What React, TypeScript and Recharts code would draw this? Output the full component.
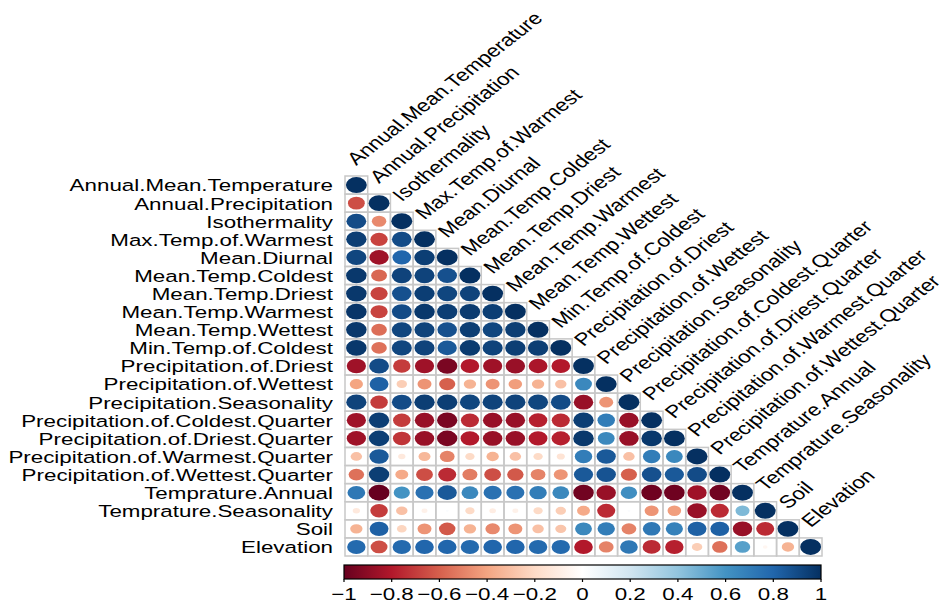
import React from 'react';
import { ScatterChart, Scatter, XAxis, YAxis, BarChart, Bar } from 'recharts';

const variables = [
  'Annual.Mean.Temperature',
  'Annual.Precipitation',
  'Isothermality',
  'Max.Temp.of.Warmest',
  'Mean.Diurnal',
  'Mean.Temp.Coldest',
  'Mean.Temp.Driest',
  'Mean.Temp.Warmest',
  'Mean.Temp.Wettest',
  'Min.Temp.of.Coldest',
  'Precipitation.of.Driest',
  'Precipitation.of.Wettest',
  'Precipitation.Seasonality',
  'Precipitation.of.Coldest.Quarter',
  'Precipitation.of.Driest.Quarter',
  'Precipitation.of.Warmest.Quarter',
  'Precipitation.of.Wettest.Quarter',
  'Temprature.Annual',
  'Temprature.Seasonality',
  'Soil',
  'Elevation',
];

// lower-triangular correlation matrix (row i, columns 0..i)
const corrRows: number[][] = [
  [1],
  [-0.65, 1],
  [0.9, -0.48, 1],
  [0.95, -0.68, 0.9, 1],
  [0.92, -0.85, 0.8, 0.95, 1],
  [0.97, -0.58, 0.93, 0.93, 0.88, 1],
  [0.97, -0.68, 0.88, 0.95, 0.92, 0.93, 1],
  [0.98, -0.68, 0.9, 0.97, 0.95, 0.96, 0.95, 1],
  [0.97, -0.56, 0.92, 0.93, 0.88, 0.95, 0.92, 0.95, 1],
  [0.97, -0.55, 0.92, 0.93, 0.85, 0.96, 0.93, 0.95, 0.95, 1],
  [-0.85, 0.9, -0.7, -0.85, -0.95, -0.8, -0.85, -0.87, -0.82, -0.8, 1],
  [-0.4, 0.82, -0.25, -0.45, -0.6, -0.35, -0.45, -0.42, -0.35, -0.3, 0.65, 1],
  [0.93, -0.7, 0.9, 0.95, 0.95, 0.92, 0.93, 0.93, 0.92, 0.9, -0.87, -0.45, 1],
  [-0.85, 0.95, -0.7, -0.87, -0.95, -0.75, -0.87, -0.87, -0.78, -0.75, 0.95, 0.7, -0.87, 1],
  [-0.85, 0.95, -0.72, -0.87, -0.95, -0.8, -0.87, -0.87, -0.8, -0.78, 0.97, 0.65, -0.87, 0.97, 1],
  [-0.3, 0.85, -0.12, -0.33, -0.5, -0.2, -0.35, -0.3, -0.2, -0.15, 0.7, 0.85, -0.3, 0.7, 0.65, 1],
  [-0.55, 0.95, -0.38, -0.65, -0.75, -0.52, -0.65, -0.62, -0.5, -0.45, 0.85, 0.87, -0.6, 0.88, 0.85, 0.9, 1],
  [0.72, -1.0, 0.6, 0.75, 0.85, 0.65, 0.75, 0.75, 0.7, 0.65, -0.97, -0.87, 0.62, -0.98, -0.98, -0.85, -0.97, 1],
  [-0.12, -0.7, -0.3, -0.08, 0.02, -0.2, -0.1, -0.08, -0.2, -0.25, -0.38, -0.75, 0.02, -0.45, -0.42, -0.87, -0.75, 0.45, 1],
  [-0.35, 0.82, -0.22, -0.45, -0.62, -0.35, -0.48, -0.45, -0.3, -0.28, 0.65, 0.7, -0.5, 0.72, 0.68, 0.82, 0.82, -0.87, -0.75, 1],
  [0.78, -0.65, 0.78, 0.8, 0.8, 0.78, 0.8, 0.8, 0.78, 0.78, -0.8, -0.5, 0.72, -0.75, -0.78, -0.25, -0.55, 0.55, -0.05, -0.35, 1],
];

const colorStops = ['#67001F', '#B2182B', '#D6604D', '#F4A582', '#FDDBC7', '#FFFFFF', '#D1E5F0', '#92C5DE', '#4393C3', '#2166AC', '#053061'];
const colorbarTicks = [-1, -0.8, -0.6, -0.4, -0.2, 0, 0.2, 0.4, 0.6, 0.8, 1];
const colorbarLabels = ['\u22121', '\u22120.8', '\u22120.6', '\u22120.4', '\u22120.2', '0', '0.2', '0.4', '0.6', '0.8', '1'];
const colorbarData = [{ name: 'cb', range: [-1, 1] }];

const FONT = '"Liberation Sans", Arial, Helvetica, sans-serif';
const SX = 1.3;
const FS = 17.2;
const SX_TOP = 1.28;
const FS_TOP = 17.6;
const W = 939;
const H = 605;
const M = { top: 176, right: 117, bottom: 49, left: 335 };
const Y_AXIS_W = 10;
const N = variables.length;
const CELL_W = (W - M.left - Y_AXIS_W - M.right) / N;
const CELL_H = (H - M.top - M.bottom) / N;

function hexToRgb(h: string) {
  return [parseInt(h.slice(1, 3), 16), parseInt(h.slice(3, 5), 16), parseInt(h.slice(5, 7), 16)];
}
function corrColor(r: number) {
  const t = ((r + 1) / 2) * (colorStops.length - 1);
  const i = Math.max(0, Math.min(colorStops.length - 2, Math.floor(t)));
  const f = t - i;
  const a = hexToRgb(colorStops[i]);
  const b = hexToRgb(colorStops[i + 1]);
  const c = a.map((v, k) => Math.round(v + (b[k] - v) * f));
  return `rgb(${c[0]},${c[1]},${c[2]})`;
}

const cells: { x: number; y: number; r: number }[] = [];
corrRows.forEach((row, i) => row.forEach((r, j) => cells.push({ x: j, y: i, r })));
const diag = variables.map((name, i) => ({ x: i, y: i, name }));
const rowTicks = variables.map((_, i) => i);

const CellShape = (props: any) => {
  const { cx, cy, payload } = props;
  const r = payload.r;
  const k = Math.sqrt(Math.abs(r));
  return (
    <g>
      <rect x={cx - CELL_W / 2} y={cy - CELL_H / 2} width={CELL_W} height={CELL_H} fill="none" stroke="#c8c8c8" strokeWidth={1.5} />
      <ellipse cx={cx} cy={cy} rx={0.46 * k * CELL_W} ry={0.44 * k * CELL_H} fill={corrColor(r)} />
    </g>
  );
};

const TopLabel = (props: any) => {
  const { cx, cy, payload } = props;
  return (
    <text
      transform={`translate(${cx},${cy - CELL_H / 2 - 10}) scale(${SX_TOP},1) rotate(-45)`}
      fontSize={FS_TOP}
      fontFamily={FONT}
      fill="#000"
    >
      {payload.name}
    </text>
  );
};

const YTick = (props: any) => {
  const { x, y, payload } = props;
  return (
    <text transform={`translate(${x},${y}) scale(${SX},1)`} textAnchor="end" dy="0.37em" fontSize={FS} fontFamily={FONT} fill="#000">
      {variables[payload.value]}
    </text>
  );
};

const CbTick = (props: any) => {
  const { x, y, payload } = props;
  const idx = colorbarTicks.indexOf(payload.value);
  return (
    <text transform={`translate(${x},${y}) scale(${SX},1)`} textAnchor="middle" dy="0.95em" fontSize={FS} fontFamily={FONT} fill="#000">
      {colorbarLabels[idx]}
    </text>
  );
};

const ColorbarShape = (props: any) => {
  const { x, y, width, height } = props;
  return (
    <g>
      <defs>
        <linearGradient id="cbGrad" x1="0" y1="0" x2="1" y2="0">
          {colorStops.map((c, i) => (
            <stop key={i} offset={`${i * 10}%`} stopColor={c} />
          ))}
        </linearGradient>
      </defs>
      <rect x={x} y={y} width={width} height={height} fill="url(#cbGrad)" stroke="#000" strokeWidth={1.2} />
    </g>
  );
};

export default function App() {
  return (
    <div style={{ position: 'absolute', left: 0, top: 0, width: W, height: H, background: '#fff' }}>
      <div style={{ position: 'absolute', left: 0, top: 0 }}>
        <ScatterChart width={W} height={H} margin={M}>
          <XAxis dataKey="x" type="number" domain={[-0.5, N - 0.5]} hide ticks={rowTicks} />
          <YAxis
            dataKey="y"
            type="number"
            domain={[-0.5, N - 0.5]}
            reversed
            ticks={rowTicks}
            interval={0}
            width={Y_AXIS_W}
            axisLine={false}
            tickLine={false}
            tickSize={0}
            tickMargin={12}
            tick={<YTick />}
          />
          <Scatter data={cells} shape={(p: any) => <CellShape {...p} />} isAnimationActive={false} />
          <Scatter data={diag} shape={(p: any) => <TopLabel {...p} />} isAnimationActive={false} />
        </ScatterChart>
      </div>
      <div style={{ position: 'absolute', left: 0, top: 560 }}>
        <BarChart
          width={W}
          height={45}
          layout="vertical"
          data={colorbarData}
          barCategoryGap={0}
          margin={{ top: 5, right: 118, bottom: 0, left: 344 }}
        >
          <XAxis
            type="number"
            domain={[-1, 1]}
            ticks={colorbarTicks}
            interval={0}
            axisLine={false}
            tickLine={{ stroke: '#000', strokeWidth: 1.2 }}
            tickSize={3}
            tickMargin={2}
            height={26}
            tick={<CbTick />}
          />
          <YAxis type="category" dataKey="name" hide />
          <Bar dataKey="range" isAnimationActive={false} shape={(p: any) => <ColorbarShape {...p} />} />
        </BarChart>
      </div>
    </div>
  );
}
